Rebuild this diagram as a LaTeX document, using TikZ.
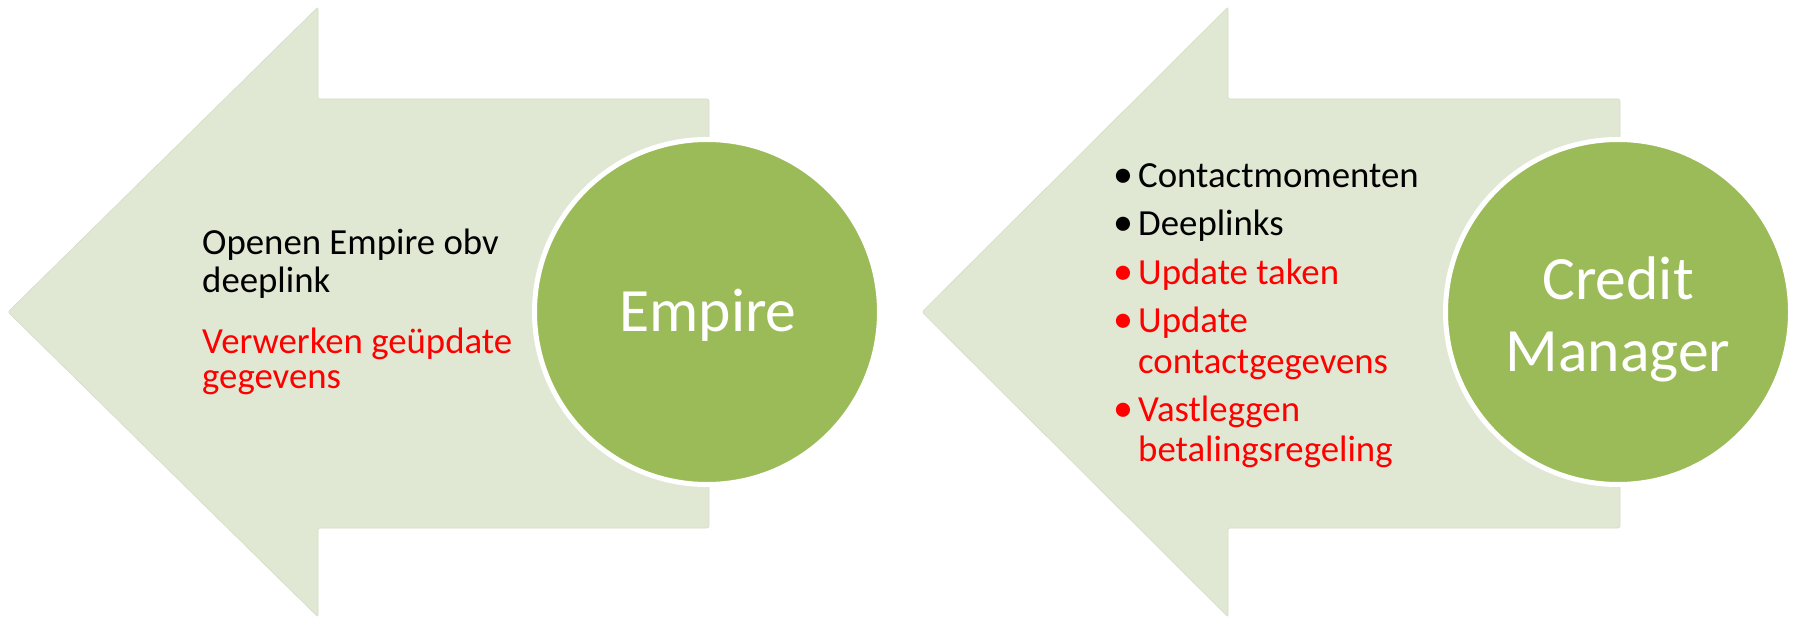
\documentclass[tikz,border=0pt]{standalone}
\usepackage{fontspec}
\setmainfont{Carlito}
\definecolor{arrowfill}{HTML}{E0E8D4}
\definecolor{circfill}{HTML}{9BBB59}
\definecolor{redtxt}{HTML}{FF0000}
\begin{document}
\begin{tikzpicture}[x=1pt,y=-1pt,
  arrowshape/.style={fill=arrowfill, draw=arrowfill!92!black!60!arrowfill, line width=0.6pt, rounded corners=2pt},
  bigcirc/.style={circle, fill=circfill, draw=white, line width=5pt, minimum size=345pt, inner sep=0pt},
  circtext/.style={text=white, font=\fontsize{61.6}{71}\selectfont, inner sep=0pt, anchor=base},
  bodytext/.style={font=\fontsize{36.8}{40}\selectfont, inner sep=0pt, anchor=base west},
  redline/.style={bodytext, text=redtxt},
  bul/.style={font=\fontsize{40}{40}\selectfont, inner sep=0pt, anchor=base}
]
\useasboundingbox (0,0) rectangle (1795,617);
% left arrow
\draw[arrowshape] (8,312) -- (318,7) -- (318,99) -- (709,99) -- (709,528) -- (318,528) -- (318,617) -- cycle;
% right arrow
\draw[arrowshape] (922,312) -- (1228,7) -- (1228,99) -- (1620,99) -- (1620,528) -- (1228,528) -- (1228,617) -- cycle;
% circles
\node[bigcirc] (c1) at (707,312) {};
\node[bigcirc] (c2) at (1618,312) {};
\node[circtext] (t1) at (708,331) {Empire};
\node[circtext] (t2a) at (1618,300) {Credit};
\node[circtext] (t2b) at (1618,371) {Manager};
% left text
\node[bodytext] (l1) at (202,255) {Openen Empire obv};
\node[bodytext] (l2) at (202,293) {deeplink};
\node[redline] (l3) at (202,353) {Verwerken geüpdate};
\node[redline] (l4) at (202,388) {gegevens};
% right text
\node[bul] (b1) at (1123,188) {•};
\node[bodytext] (r1) at (1138,188) {Contactmomenten};
\node[bul] (b2) at (1123,236) {•};
\node[bodytext] (r2) at (1138,236) {Deeplinks};
\node[bul,text=redtxt] (b3) at (1123,285) {•};
\node[redline] (r3) at (1138,285) {Update taken};
\node[bul,text=redtxt] (b4) at (1123,333) {•};
\node[redline] (r4) at (1138,333) {Update};
\node[redline] (r4b) at (1138,373) {contactgegevens};
\node[bul,text=redtxt] (b5) at (1123,421) {•};
\node[redline] (r5) at (1138,421) {Vastleggen};
\node[redline] (r5b) at (1138,461) {betalingsregeling};
\end{tikzpicture}
\end{document}
